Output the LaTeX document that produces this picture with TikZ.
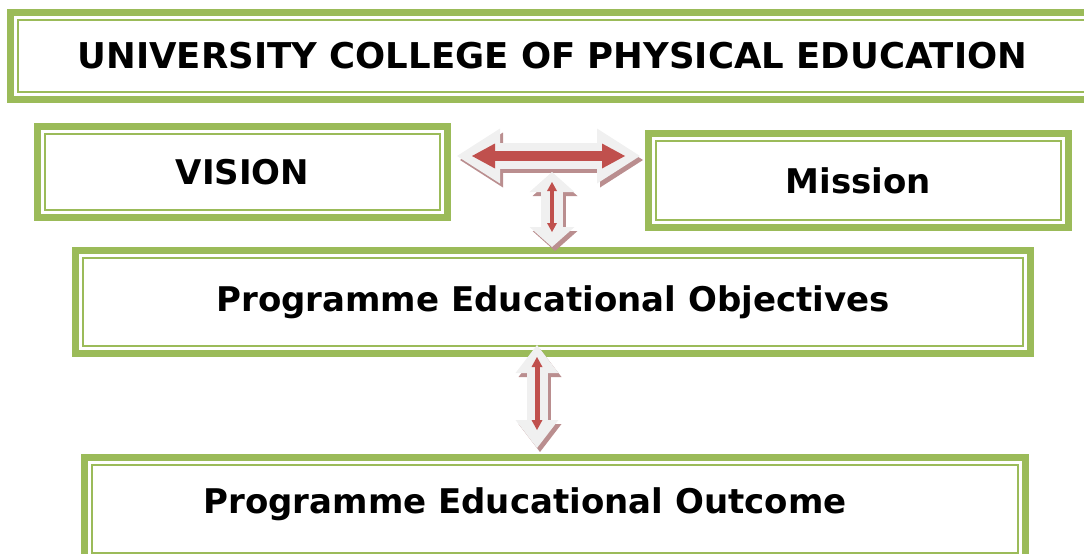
\documentclass[tikz,border=0pt]{standalone}
\usepackage{fontspec}
\setmainfont{DejaVu Sans}
\usetikzlibrary{arrows.meta, positioning}
\usepackage{xcolor}
\definecolor{leafgreen}{RGB}{155,187,89}
\definecolor{brickred}{RGB}{192,80,77}
\definecolor{paleshade}{RGB}{240,240,240}
\definecolor{dustyrose}{RGB}{186,142,143}

\begin{document}
\begin{tikzpicture}[x=1pt, y=-1pt,
    frame/.style={draw=leafgreen, line width=7pt, fill=white, inner sep=0pt,
        font=\bfseries\fontsize{34}{40}\selectfont,
        path picture={\draw[leafgreen, line width=2pt]
            ([shift={(7.5pt,-7.5pt)}]path picture bounding box.north west) rectangle
            ([shift={(-7.5pt,7.5pt)}]path picture bounding box.south east);}},
    caption/.style={font=\bfseries\fontsize{34}{40}\selectfont, inner sep=0pt},
    block/.style n args={3}{line width=#1,
        {Triangle[length=#2, width=#3, line width=0pt]}-{Triangle[length=#2, width=#3, line width=0pt]}},
    halo/.style={draw=dustyrose, transform canvas={shift={(3pt,-4pt)}}}]

    \useasboundingbox (0,0) rectangle (1084,554);

    \node[frame, minimum width=1084pt, minimum height=87pt,
        font=\bfseries\fontsize{35.5}{40}\selectfont] (college) at (552.5,56)
        {UNIVERSITY COLLEGE OF PHYSICAL EDUCATION};
    \node[frame, minimum width=410pt, minimum height=91pt] (vision) at (242.5,172) {VISION};
    \node[frame, minimum width=420pt, minimum height=94pt] (mission) at (858.5,180.5) {Mission};
    \node[frame, minimum width=955pt, minimum height=103pt] (peo) at (553,302)
        {Programme Educational Objectives};
    \node[frame, minimum width=941pt, minimum height=103pt] (outcome) at (555,508.5) {};
    \node[caption] (outcomelabel) at (525,504.5) {Programme Educational Outcome};

    % vision <-> mission
    \coordinate (hl) at ([shift={(6,-16)}]vision.east);
    \coordinate (hr) at ([shift={(-5,-24.5)}]mission.west);
    \coordinate (fork) at (552,172);
    \draw[block={26pt}{43pt}{55pt}, halo] (hl) -- (hr);
    \draw[block={26pt}{43pt}{55pt}, draw=paleshade] (hl) -- (hr);

    % down to the objectives
    \draw[block={22pt}{20pt}{45pt}, halo] (fork) -- (fork |- peo.north);
    \draw[block={22pt}{20pt}{45pt}, draw=paleshade] (fork) -- (fork |- peo.north);

    % objectives <-> outcome
    \coordinate (lt) at ([shift={(-16,-12)}]peo.south);
    \coordinate (lb) at ([shift={(-18,-5.5)}]outcome.north);
    \draw[block={21pt}{28pt}{43pt}, halo] (lt) -- (lb);
    \draw[block={21pt}{28pt}{43pt}, draw=paleshade] (lt) -- (lb);

    % red cores
    \draw[block={10pt}{23pt}{25pt}, draw=brickred, shorten <=15pt, shorten >=15pt] (hl) -- (hr);
    \draw[block={4pt}{9pt}{10pt}, draw=brickred, shorten <=10pt, shorten >=15pt]
        (fork) -- (fork |- peo.north);
    \draw[block={5pt}{10pt}{11pt}, draw=brickred, shorten <=12pt, shorten >=18pt] (lt) -- (lb);

\end{tikzpicture}
\end{document}
